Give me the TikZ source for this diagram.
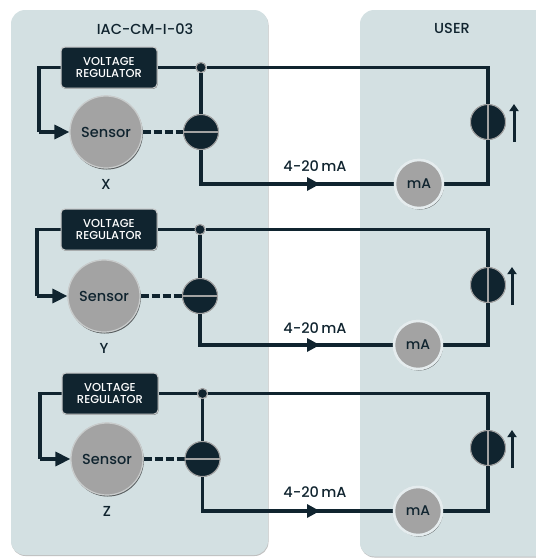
\documentclass[tikz,border=0pt]{standalone}
\usepackage{fontspec}
\setmainfont{Poppins Medium}
\usetikzlibrary{arrows.meta,shadows,calc}
\definecolor{panel}{HTML}{D3E0E2}
\definecolor{ink}{HTML}{10242F}
\definecolor{disc}{HTML}{A3A3A3}
\definecolor{rim}{HTML}{C9CCCC}
\tikzset{
  panelbox/.style={fill=panel,rounded corners=14pt,drop shadow={shadow xshift=0.5pt,shadow yshift=-1pt,opacity=.25,fill=black}},
  wire/.style={draw=ink,line width=3.2pt,line join=miter},
  dashwire/.style={draw=ink,line width=3.2pt,dash pattern=on 8pt off 3pt},
  reg/.style={draw=rim,line width=1pt,fill=ink,rounded corners=4pt,minimum width=96pt,minimum height=41pt,text=white,font=\fontsize{11.5}{12}\selectfont,align=center,inner sep=0pt,drop shadow={shadow xshift=.5pt,shadow yshift=-.8pt,opacity=.3,fill=black}},
  sensornode/.style={circle,draw=rim,line width=1.2pt,fill=disc,minimum size=72pt,inner sep=0pt,text=ink,font=\fontsize{14.5}{15}\selectfont,drop shadow={shadow xshift=.8pt,shadow yshift=-1.5pt,opacity=.35,fill=black}},
  manode/.style={circle,draw=panel!60!white,line width=2.5pt,fill=disc,minimum size=48pt,inner sep=0pt,text=ink,font=\fontsize{14}{15}\selectfont,drop shadow={shadow xshift=.8pt,shadow yshift=-1.5pt,opacity=.35,fill=black}},
  valve/.style={circle,draw=disc,line width=1pt,fill=ink,minimum size=35pt,inner sep=0pt},
  junction/.style={circle,draw=disc,line width=1pt,fill=ink,minimum size=10pt,inner sep=0pt},
  split/.style={draw=disc,line width=2pt},
  lbl/.style={text=ink,font=\fontsize{14.5}{15}\selectfont,inner sep=0pt},
  head/.style={text=ink,font=\fontsize{14.5}{15}\selectfont,inner sep=0pt},
  flow/.style={wire,-{Triangle[length=15pt,width=14pt]}},
  flowmid/.style={wire,-{Triangle[length=13pt,width=13pt]}},
  upflow/.style={draw=ink,line width=3pt,-{Triangle[length=7pt,width=9pt]}},
}
\begin{document}
\begin{tikzpicture}[x=1pt,y=-1pt]
\useasboundingbox (0,0) rectangle (536,558);
\path[panelbox] (11,10) rectangle (268,555);
\path[panelbox] (360,10) rectangle (560,556.5);
\node[head] (left) at (145,29) {IAC-CM-I-03};
\node[head] (right) at (452,28) {USER};
\foreach \id/\rx/\ry/\sx/\sy/\vx/\by/\mx/\rv/\ax/\ltr/\wx/\my in {
  a/109/67.5/106/132/201/184/419/122/514/X/39/166,
  b/109/229.5/104/296/200/345/418/285/512/Y/37/328,
  c/110/393.5/107/459/202.5/511/418/448/512/Z/40/492}{
  \coordinate (top\id) at (488,\ry);
  \coordinate (bot\id) at (488,\by);
  \coordinate (wl\id) at (\wx,\ry);
  \coordinate (wb\id) at (\wx,\sy);
  \coordinate (fm\id) at (\vx,\by);
  \coordinate (fe\id) at (320,\by);
  \coordinate (ub\id) at (\ax,\rv+20);
  \coordinate (ut\id) at (\ax,\rv-18);
  \node[reg] (reg\id) at (\rx,\ry) {VOLTAGE\\REGULATOR};
  \node[sensornode] (sen\id) at (\sx,\sy) {Sensor};
  \node[valve] (val\id) at (\vx,\sy) {};
  \node[junction] (dot\id) at (\vx,\ry) {};
  \node[manode] (ma\id) at (\mx,\by) {mA};
  \node[valve] (rv\id) at (488,\rv) {};
  \draw[wire] (reg\id.west |- wl\id) -- (wl\id) -- (wb\id);
  \draw[flow] (wb\id) -- (sen\id.west);
  \draw[wire] (reg\id.east |- dot\id) -- (dot\id);
  \draw[wire] (dot\id) -- (val\id);
  \draw[dashwire] (sen\id.east) -- (val\id.west);
  \draw[wire] (val\id) -- (fm\id) -- (ma\id.west);
  \draw[flowmid] (fm\id) -- (fe\id);
  \draw[wire] (dot\id) -- (top\id) -- (bot\id) -- (ma\id.east);
  \draw[upflow] (ub\id) -- (ut\id);
  \node[reg] at (reg\id) {VOLTAGE\\REGULATOR};
  \node[sensornode] at (sen\id) {Sensor};
  \node[valve] at (val\id) {};
  \node[junction] at (dot\id) {};
  \node[manode] at (ma\id) {mA};
  \node[valve] at (rv\id) {};
  \draw[split] (val\id.west) -- (val\id.east);
  \draw[split] (rv\id.north) -- (rv\id.south);
  \node[lbl] (name\id) at (\sx,\sy+52) {\ltr};
  \node[lbl] (lab\id) at (315,\my) {4-20\,mA};
}
\end{tikzpicture}
\end{document}
